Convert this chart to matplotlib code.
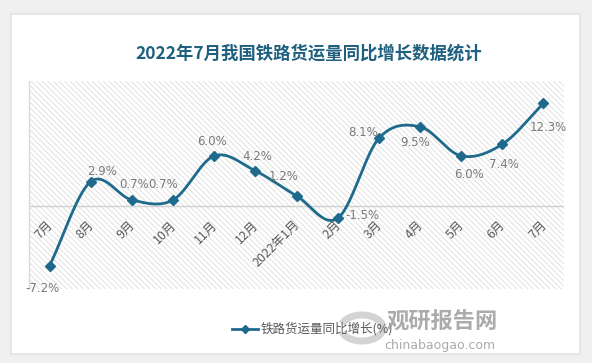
import numpy as np
import matplotlib
matplotlib.use("Agg")
import matplotlib.pyplot as plt
from matplotlib.patches import Rectangle, Arc
from matplotlib.lines import Line2D

plt.rcParams['font.family'] = ['Noto Sans CJK SC', 'DejaVu Sans']
plt.rcParams['hatch.linewidth'] = 0.5

categories = ['7月', '8月', '9月', '10月', '11月', '12月', '2022年1月',
              '2月', '3月', '4月', '5月', '6月', '7月']
values = [-7.2, 2.9, 0.7, 0.7, 6.0, 4.2, 1.2, -1.5, 8.1, 9.5, 6.0, 7.4, 12.3]
value_labels = ['-7.2%', '2.9%', '0.7%', '0.7%', '6.0%', '4.2%', '1.2%',
                '-1.5%', '8.1%', '9.5%', '6.0%', '7.4%', '12.3%']
series_name = '铁路货运量同比增长(%)'
title = '2022年7月我国铁路货运量同比增长数据统计'

# label offsets in pixels (dx, dy; dy positive = up)
label_offsets = [(-7, -23), (11, 10), (2, 15), (-10, 15), (-2, 14), (2, 14),
                 (-13, 19), (25, 3), (-16, 6), (-5, -16), (8, -19), (2, -20),
                 (5, -24)]

W, H = 592, 363
fig = plt.figure(figsize=(W / 100, H / 100), dpi=100)
fig.patch.set_facecolor('#f0f0f0')

# white card with soft shadow
for i, a in enumerate([0.05, 0.05, 0.06]):
    d = 3 - i
    fig.patches.append(Rectangle(((12 - d) / W, 1 - (353 + d) / H),
                                 (567 + 2 * d) / W, (338 + 2 * d) / H,
                                 transform=fig.transFigure, facecolor='#b0b0b0',
                                 alpha=a, edgecolor='none', zorder=-2))
fig.patches.append(Rectangle((12 / W, 1 - 353 / H), 567 / W, 338 / H,
                             transform=fig.transFigure, facecolor='white',
                             edgecolor='none', zorder=-1))

ax = fig.add_axes([29 / W, 1 - 289 / H, (564 - 29) / W, (289 - 81) / H])
ax.set_zorder(1)
ax.set_facecolor('none')
ax.set_xlim(-0.5, len(values) - 0.5)
ax.set_ylim(-10, 15)
ax.add_patch(Rectangle((0, 0), 1, 1, transform=ax.transAxes, facecolor='white',
                       edgecolor='#d6d6d6', hatch='\\\\\\\\\\\\', linewidth=0,
                       zorder=0))
for s in ['top', 'right', 'bottom']:
    ax.spines[s].set_visible(False)
ax.spines['left'].set_color('#d9d9d9')
ax.spines['left'].set_linewidth(1.0)
ax.set_xticks([])
ax.set_yticks([])
ax.axhline(0, color='#d0d0d0', linewidth=1.0, zorder=1)

x = np.arange(len(values))
y = np.array(values, dtype=float)

# smooth curve (Catmull-Rom through the data points)
def catmull_rom(xp, yp, n=30):
    P = np.column_stack([xp, yp])
    P = np.vstack([P[0] - (P[1] - P[0]), P, P[-1] + (P[-1] - P[-2])])
    out = []
    for i in range(1, len(P) - 2):
        p0, p1, p2, p3 = P[i - 1], P[i], P[i + 1], P[i + 2]
        t = np.linspace(0, 1, n, endpoint=False)[:, None]
        c = 0.5 * ((2 * p1) + (-p0 + p2) * t + (2 * p0 - 5 * p1 + 4 * p2 - p3) * t ** 2
                   + (-p0 + 3 * p1 - 3 * p2 + p3) * t ** 3)
        out.append(c)
    out.append(P[-2][None, :])
    return np.vstack(out)

curve = catmull_rom(x, y)
color = '#1d6a8c'
ax.plot(curve[:, 0], curve[:, 1], color=color, linewidth=2.0, zorder=3,
        solid_capstyle='round')
ax.plot(x, y, linestyle='none', marker='D', markersize=5.5, color=color, zorder=4)

for xi, yi, lab, (dx, dy) in zip(x, y, value_labels, label_offsets):
    ax.annotate(lab, (xi, yi), xytext=(dx, dy), textcoords='offset pixels',
                ha='center', va='center', fontsize=8.5, color='#7a7a7a',
                zorder=5, family=['DejaVu Sans'])

for xi, cat in zip(x, categories):
    ax.annotate(cat, (xi, 0), xytext=(1, -17), textcoords='offset pixels',
                ha='right', va='center', rotation=45, rotation_mode='anchor',
                fontsize=9, color='#595959', zorder=5)

fig.text(309 / W, 1 - 54 / H, title, ha='center', va='center',
         fontsize=12.5, fontweight='bold', color='#1f607f')

# legend
fig.lines.append(Line2D([232 / W, 258 / W], [1 - 329 / H, 1 - 329 / H],
                        transform=fig.transFigure, color=color, linewidth=2))
fig.lines.append(Line2D([245 / W], [1 - 329 / H], transform=fig.transFigure,
                        color=color, marker='D', markersize=4.5, linestyle='none'))
fig.text(261 / W, 1 - 329 / H, series_name, ha='left', va='center',
         fontsize=9, color='#595959')

# watermark
fig.patches.append(Arc((362 / W, 1 - 328 / H), 42 / W, 26 / H, theta1=200,
                       theta2=520, transform=fig.transFigure,
                       color='#c8c8c8', linewidth=5, alpha=0.8))
fig.text(442 / W, 1 - 322 / H, '观研报告网', ha='center', va='center',
         fontsize=16, fontweight='bold', color='#9c9c9c', alpha=0.85)
fig.text(440 / W, 1 - 346 / H, 'chinabaogao.com', ha='center', va='center',
         fontsize=9, color='#9c9c9c', alpha=0.85, family=['DejaVu Sans'])

fig.savefig('out.png', dpi=100, facecolor=fig.get_facecolor())
